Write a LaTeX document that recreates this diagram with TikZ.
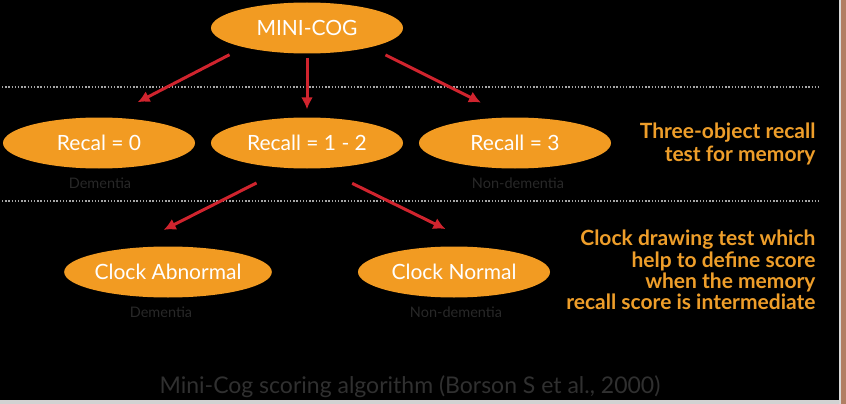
\documentclass[tikz,border=0pt]{standalone}
\usepackage{fontspec}
\setmainfont{Lato}
\usetikzlibrary{arrows.meta,shapes.geometric}
\definecolor{cogorange}{RGB}{242,155,34}
\definecolor{cogred}{RGB}{208,36,46}
\definecolor{cogtext}{RGB}{238,158,42}
\definecolor{cogdim}{RGB}{40,40,40}
\definecolor{cogcap}{RGB}{48,48,48}
\definecolor{cogedge}{RGB}{178,127,99}

\begin{document}
\begin{tikzpicture}[x=1pt,y=-1pt,>={Latex[length=12pt,width=12pt]},
  oval/.style={ellipse,fill=cogorange,text=white,minimum width=192pt,minimum height=51pt,inner sep=0pt,font=\fontsize{21}{24}\selectfont},
  note/.style={text=cogdim,font=\fontsize{14.5}{16}\selectfont},
  side/.style={text=cogtext,align=right,anchor=east,font=\fontsize{21}{21}\selectfont\bfseries},
  sep/.style={gray!70,line width=1.4pt,dash pattern=on 1.4pt off 1.8pt},
  arrow/.style={->,cogred,line width=3pt}]
  \useasboundingbox (0,0) rectangle (846,404);
  \fill[black] (0,0) rectangle (846,404);
  \fill[gray!35] (0,400) rectangle (846,404);
  \fill[gray!30] (839,0) rectangle (841,404);
  \fill[cogedge] (841,0) rectangle (846,404);
  \draw[sep] (2,87) -- (820,87);
  \draw[sep] (2,201) -- (820,201);

  \node[oval] (mini) at (307,28) {MINI-COG};
  \node[oval] (rc0) at (99,143) {Recal = 0};
  \node[oval] (rc12) at (307,143) {Recall = 1 - 2};
  \node[oval] (rc3) at (515,143) {Recall = 3};
  \node[oval] (cab) at (168,272) {Clock Abnormal};
  \node[oval] (cnor) at (454,272) {Clock Normal};

  \node[note] (dem1) at (100,183) {Dementia};
  \node[note] (non1) at (518,183) {Non-dementia};
  \node[note] (dem2) at (161,312) {Dementia};
  \node[note] (non2) at (456,312) {Non-dementia};

  \node[side,font=\fontsize{21}{23}\selectfont\bfseries] (recalltxt) at (819,144) {Three-object recall\\test for memory};
  \node[side,font=\fontsize{21}{21.3}\selectfont\bfseries] (clocktxt) at (819,270) {Clock drawing test which\\help to define score\\when the memory\\recall score is intermediate};

  % flechas entre niveles
  \draw[arrow,shorten <=16pt,shorten >=33pt] (mini.197) -- (rc0.70);
  \draw[arrow,shorten <=4pt,shorten >=8pt] (mini.south) -- (rc12.north);
  \draw[arrow,shorten <=17pt,shorten >=33pt] (mini.343) -- (rc3.100);
  \draw[arrow,shorten <=33pt,shorten >=41pt] (rc12.230) -- (cab.150);
  \draw[arrow,shorten <=34pt,shorten >=42pt] (rc12.300) -- (cnor.40);

  \node[text=cogcap,font=\fontsize{23}{26}\selectfont] (src) at (410,387) {Mini-Cog scoring algorithm (Borson S et al., 2000)};
\end{tikzpicture}
\end{document}
